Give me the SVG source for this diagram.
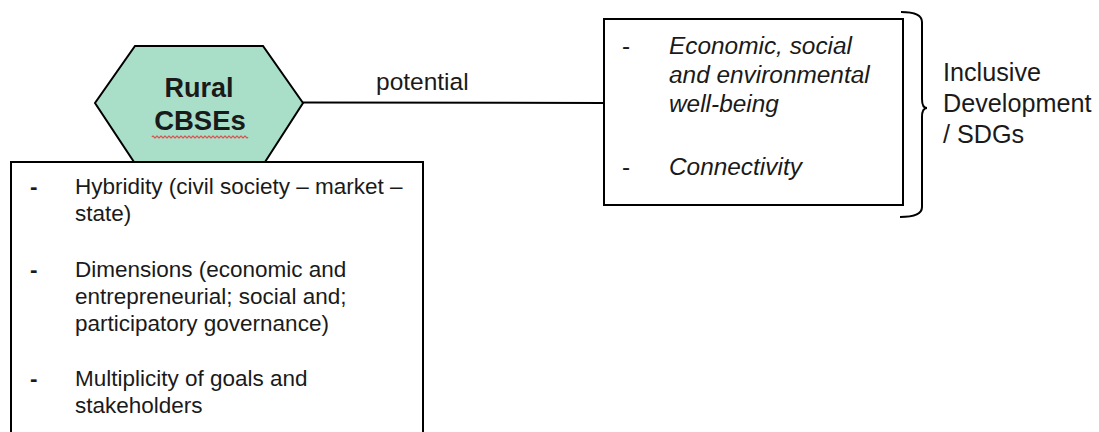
<svg xmlns="http://www.w3.org/2000/svg" width="1099" height="432" viewBox="0 0 1099 432">
<style>
.t{font-family:"Liberation Sans",Arial,sans-serif;fill:#1a1a1a}
.l{font-size:22.5px}
.r{font-size:24.4px;font-style:italic}
.b{font-size:25.2px}
.box{fill:#fff;stroke:#000;stroke-width:2}
</style>
<rect width="1099" height="432" fill="#fff"/>
<g id="connectors">
<line x1="303" y1="102.5" x2="604" y2="103" stroke="#000" stroke-width="2"/>
<text class="t" x="376" y="90" font-size="24.5">potential</text>
</g>
<g id="rural-cbses">
<polygon points="135,46 263,46 303,103 265,162 134,162 95,103" fill="#A9DFC9" stroke="#000" stroke-width="2"/>
<text class="t" x="199" y="97" font-size="27" font-weight="bold" text-anchor="middle">Rural</text>
<text class="t" x="200" y="130" font-size="27.5" font-weight="bold" text-anchor="middle">CBSEs</text>
<path d="M152,137 q1,-2 2,0 t2,0 t2,0 t2,0 t2,0 t2,0 t2,0 t2,0 t2,0 t2,0 t2,0 t2,0 t2,0 t2,0 t2,0 t2,0 t2,0 t2,0 t2,0 t2,0 t2,0 t2,0 t2,0 t2,0 t2,0 t2,0 t2,0 t2,0 t2,0 t2,0 t2,0 t2,0 t2,0 t2,0 t2,0 t2,0 t2,0 t2,0 t2,0 t2,0 t2,0 t2,0 t2,0 t2,0 t2,0 t2,0 t2,0 t2,0" fill="none" stroke="#E04848" stroke-width="1.2"/>
</g>
<g id="characteristics">
<rect class="box" x="11" y="162" width="412" height="300"/>
<g class="t l">
<text x="30" y="194" font-weight="bold">-</text>
<text x="75" y="194">Hybridity (civil society – market –</text>
<text x="75" y="221">state)</text>
<text x="30" y="277" font-weight="bold">-</text>
<text x="75" y="277">Dimensions (economic and</text>
<text x="75" y="304">entrepreneurial; social and;</text>
<text x="75" y="331">participatory governance)</text>
<text x="30" y="386" font-weight="bold">-</text>
<text x="75" y="386">Multiplicity of goals and</text>
<text x="75" y="413">stakeholders</text>
</g>
</g>
<g id="outcomes">
<rect class="box" x="604" y="19" width="299" height="186"/>
<g class="t r">
<text x="622" y="54" font-style="normal">-</text>
<text x="669" y="54">Economic, social</text>
<text x="669" y="83">and environmental</text>
<text x="669" y="112">well-being</text>
<text x="622" y="175" font-style="normal">-</text>
<text x="669" y="175">Connectivity</text>
</g>
</g>
<g id="inclusive-development">
<path d="M901,12 Q922,12 922,22 L922,99 Q922,108 927,108 Q922,108 922,117 L922,207 Q922,217 900,217" fill="none" stroke="#000" stroke-width="2"/>
<g class="t b">
<text x="943" y="81">Inclusive</text>
<text x="943" y="112">Development</text>
<text x="943" y="143">/ SDGs</text>
</g>
</g>
</svg>
